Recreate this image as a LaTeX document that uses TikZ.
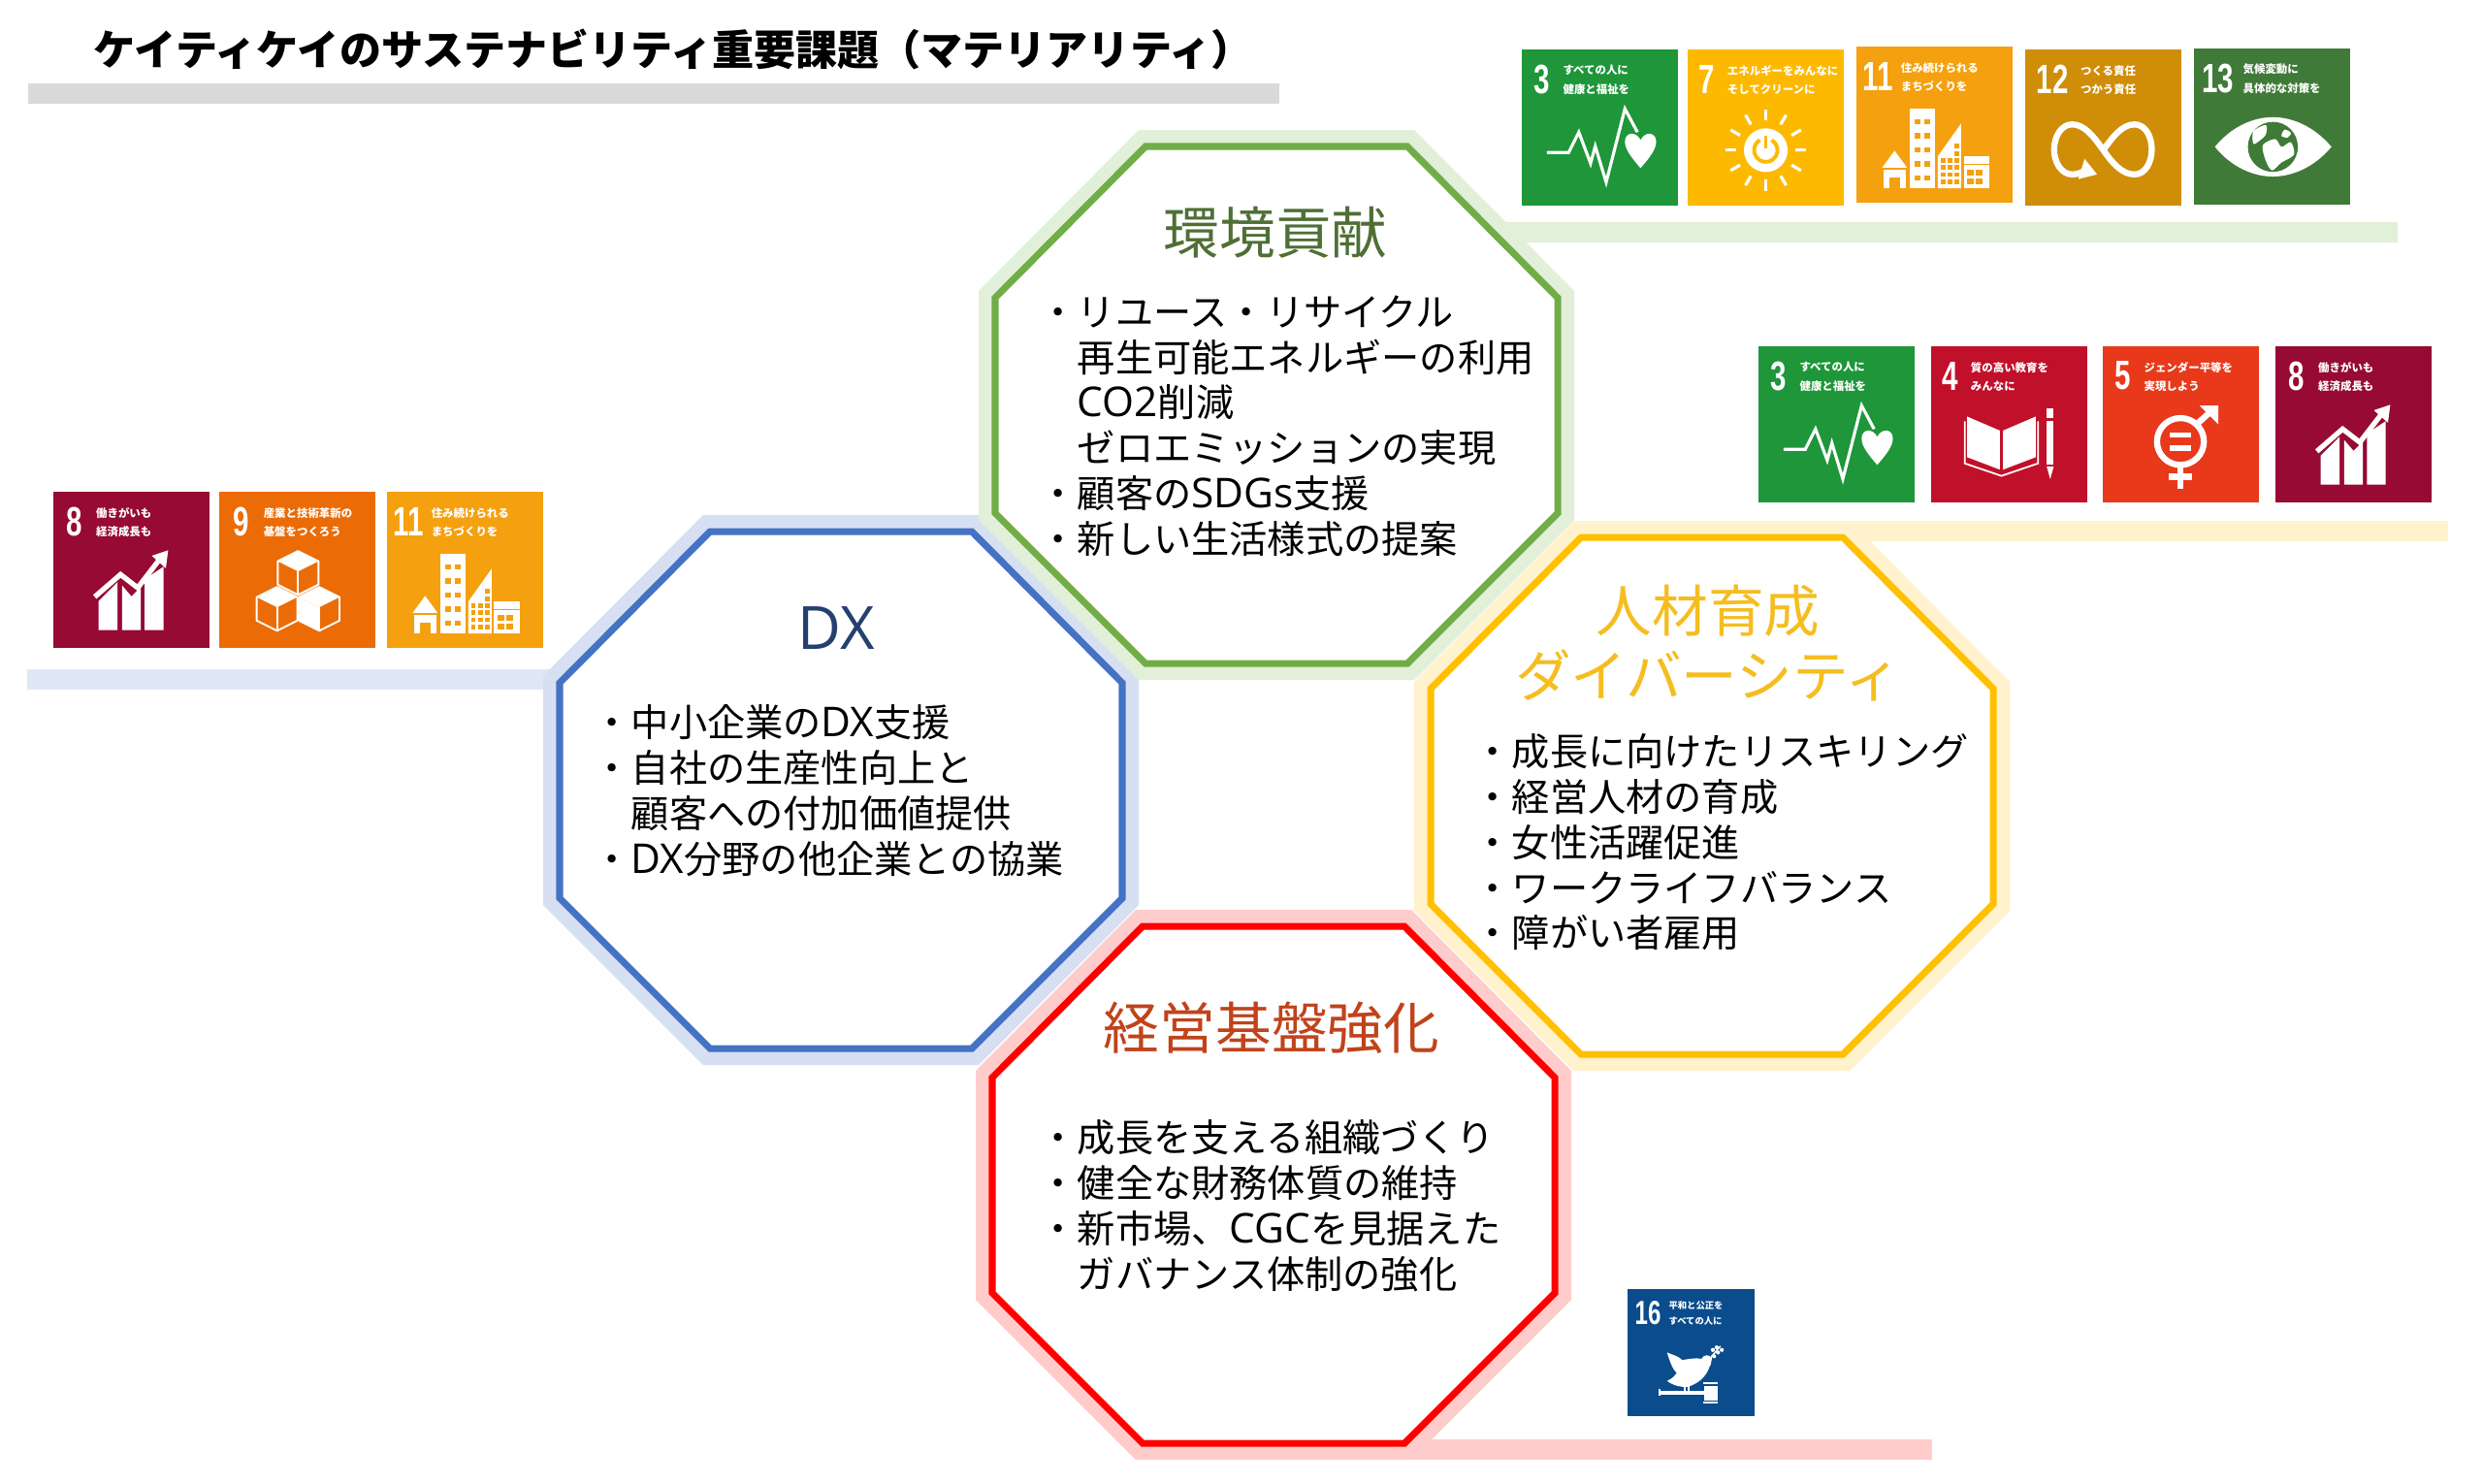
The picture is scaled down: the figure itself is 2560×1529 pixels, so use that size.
\documentclass[tikz,border=0pt]{standalone}
\usepackage{fontspec}
\newfontfamily\cjk{Noto Sans CJK JP}
\newfontfamily\numfont{Liberation Sans}
\newfontfamily\latfont[Scale=1.08]{Open Sans}
\newcommand\lat[1]{{\latfont #1}}

\definecolor{sdgthree}{HTML}{1E9639}
\definecolor{sdgfour}{HTML}{C1102A}
\definecolor{sdgfive}{HTML}{E8391B}
\definecolor{sdgseven}{HTML}{FDB900}
\definecolor{sdgeight}{HTML}{960A33}
\definecolor{sdgnine}{HTML}{EB6C07}
\definecolor{sdgeleven}{HTML}{F5A00E}
\definecolor{sdgtwelve}{HTML}{CF8D08}
\definecolor{sdgthirteen}{HTML}{407A38}
\definecolor{sdgsixteen}{HTML}{0B4C8D}
\definecolor{envline}{HTML}{70AD47}
\definecolor{envhalo}{HTML}{E2EFD9}
\definecolor{envtext}{HTML}{4F6F35}
\definecolor{dxline}{HTML}{4472C4}
\definecolor{dxhalo}{HTML}{D6E0F2}
\definecolor{dxbar}{HTML}{DEE8F4}
\definecolor{dxtext}{HTML}{24406F}
\definecolor{hrline}{HTML}{FFC000}
\definecolor{hrhalo}{HTML}{FFF2CC}
\definecolor{hrtext}{HTML}{F5BD1F}
\definecolor{mgline}{HTML}{FF0000}
\definecolor{mghalo}{HTML}{FFCCCC}
\definecolor{mgtext}{HTML}{C0431B}

\tikzset{headtext/.style = {font=\cjk\fontsize{16.4}{19.3}\selectfont,
                                    inner sep=0pt},
         bodytext/.style = {font=\cjk\fontsize{11.15}{13.3}\selectfont,
                                    align=left,
                                    anchor=north west,
                                    inner sep=0pt},
         sdgnum/.style = {font=\numfont\bfseries\fontsize{12}{12}\selectfont,
                                    color=white,
                                    inner sep=0pt,
                                    xscale=.7,
                                    transform shape},
         sdgline/.style = {font=\cjk\bfseries\fontsize{3.25}{4}\selectfont,
                                    color=white,
                                    anchor=west,
                                    inner sep=0pt,
                                    transform shape},
         iconline/.style = {color=white,
                                    line width=.9pt}}

\def\tilescale{1}

\newcommand\octa[4]{
		\begin{scope}[shift={(#1,#2)}]
			\draw[line width=9.67pt, color=#4] (155,0) -- (425,0) -- (580,156) -- (580,378) -- (425,533) -- (155,533) -- (0,378) -- (0,156) -- cycle;
			\draw[line width=2pt, color=#3, fill=white] (155,0) -- (425,0) -- (580,156) -- (580,378) -- (425,533) -- (155,533) -- (0,378) -- (0,156) -- cycle;
		\end{scope}}

\newcommand\sdgtile[9]{
		\colorlet{tilecol}{#4}
		\begin{scope}[shift={(#2,#3)},scale=\tilescale,x=0.0161cm,y=0.0161cm]
			\fill[#4] (0,0) rectangle (100,100);
			\node[sdgnum] (#1num) at (#6/2,81) {#5};
			\node[sdgline] (#1a) at (#6,86.5) {#7};
			\node[sdgline] (#1b) at (#6,74.5) {#8};
			#9
		\end{scope}}

\newcommand\iconbeat{
			\draw[iconline] (16,34) -- (30,34) -- (36.5,47) -- (44,27) -- (47,38) -- (54,15) -- (66,62) -- (74,47);
			\fill[white] (76,24) .. controls (70,31) and (66,36) .. (66,41) .. controls (66,47) and (73,48) .. (76,42) .. controls (79,48) and (86,47) .. (86,41) .. controls (86,36) and (82,31) .. (76,24) -- cycle;}

\newcommand\iconsun{
			\begin{scope}[shift={(50,35.5)}]
				\foreach \a in {0,30,...,330}
					\draw[iconline] (\a:19) -- (\a:26);
				\fill[white] (0,0) circle (14);
				\draw[tilecol, line width=1.1pt] (60:7.5) arc (60:-240:7.5);
				\draw[tilecol, line width=1.1pt] (0,9.5) -- (0,1);
			\end{scope}}

\newcommand\icontown{
			\fill[white] (34.3,9.3) rectangle (50,60);
			\foreach \r in {14,23,32,41,50}
				\foreach \c in {37.5,43.5}
					\fill[tilecol] (\c,\r) rectangle ++(3.5,3.5);
			\fill[white] (16.4,22.4) -- (24.4,33.3) -- (32.4,22.4) -- cycle;
			\fill[white] (17.5,9.3) rectangle (31.5,21);
			\fill[tilecol] (21,9.3) rectangle (28,16);
			\fill[white] (52,9.3) -- (52,29.6) -- (67,50.7) -- (67,9.3) -- cycle;
			\foreach \r in {12,16.5,21,25.5}
				\foreach \c in {54,58.5,63}
					\fill[tilecol] (\c,\r) rectangle ++(2.8,3);
			\fill[tilecol] (63,30) rectangle ++(2.8,3);
			\fill[tilecol] (63,35) rectangle ++(2.8,3);
			\fill[white] (68.6,9.3) rectangle (85,29.6);
			\fill[tilecol] (68.6,24) rectangle (85,25);
			\foreach \r in {12,17.5}
				\foreach \c in {71,76.5}
					\fill[tilecol] (\c,\r) rectangle ++(4,3.5);}

\newcommand\iconloop{
			\draw[white, line width=1.8pt] (50,35.5) .. controls (56,44) and (62,52) .. (70,52) .. controls (77,52) and (81,44) .. (81,36) .. controls (81,28) and (77,20) .. (70,20) .. controls (62,20) and (56,27) .. (50,35.5) .. controls (44,44) and (38,52) .. (30,52) .. controls (23,52) and (18.5,44) .. (18.5,36) .. controls (18.5,28) and (23,20) .. (30,20) .. controls (33,20) and (36,21) .. (39,23);
			\fill[white] (34,17) -- (46,20) -- (38,30) -- cycle;}

\newcommand\iconeye{
			\fill[white] (13.4,37) .. controls (24,50) and (38,56) .. (50.5,56) .. controls (63,56) and (77,50) .. (88,37) .. controls (77,24) and (63,18) .. (50.5,18) .. controls (38,18) and (24,24) .. (13.4,37) -- cycle;
			\fill[tilecol] (50.5,37) circle (16);
			\fill[white] plot[smooth cycle] coordinates {(38,47) (46,51) (46,45) (42,41) (38,39)};
			\fill[white] plot[smooth cycle] coordinates {(44,38) (52,42) (56,37) (62,40) (64,32) (56,27) (50,22) (46,28)};
			\fill[white] plot[smooth cycle] coordinates {(58,48) (62,46) (60,43) (56,44)};}

\newcommand\iconbook{
			\fill[white] (23,55) -- (44,46) -- (44,21) -- (23,29) -- cycle;
			\fill[white] (46,46) -- (67,55) -- (67,29) -- (46,21) -- cycle;
			\draw[white, line width=.5pt] (21.5,52) -- (21.5,25) -- (45,17) -- (68.5,25) -- (68.5,52);
			\fill[white] (74,24) rectangle (78.5,52);
			\fill[white] (74,54) rectangle (78.5,60);
			\fill[white] (74,23) -- (78.5,23) -- (76.2,15) -- cycle;}

\newcommand\iconequal{
			\draw[white, line width=1.8pt] (49.7,39) circle (15);
			\fill[white] (43,41.5) rectangle (56.5,45);
			\fill[white] (43,33) rectangle (56.5,36.5);
			\draw[iconline, line width=1.8pt] (60,50) -- (70,59);
			\fill[white] (62,62) -- (74,62) -- (74,50) -- cycle;
			\draw[iconline, line width=1.8pt] (49.7,24) -- (49.7,9);
			\draw[iconline, line width=1.8pt] (42.5,16.5) -- (57,16.5);}

\newcommand\icongrowth{
			\fill[white] (29,11.4) -- (29,30) -- (41,42) -- (41,11.4) -- cycle;
			\fill[white] (44,11.4) -- (44,40) -- (50,33) -- (56,39) -- (56,11.4) -- cycle;
			\fill[white] (58.5,11.4) -- (58.5,44) -- (70.5,52) -- (70.5,11.4) -- cycle;
			\draw[white, line width=1.5pt] (26.5,32.7) -- (43,47) -- (54,38.5) -- (69,58);
			\fill[white] (63,59) -- (73.5,62.5) -- (72,51) -- cycle;}

\newcommand\cubeshape[2]{
			\begin{scope}[shift={(#1,#2)}]
				\draw[white, line width=.55pt, line join=round] (0,0) -- (13,-6.5) -- (13,-21.5) -- (0,-28) -- (-13,-21.5) -- (-13,-6.5) -- cycle;
				\draw[white, line width=.55pt] (0,-13) -- (0,-28);
				\fill[white] (0,0) -- (13,-6.5) -- (0,-13) -- (-13,-6.5) -- cycle;
			\end{scope}}

\newcommand\iconcubes{
			\cubeshape{50.5}{62}
			\cubeshape{37}{39}
			\cubeshape{64}{39}
			\fill[white] (51,32.5) -- (64,26) -- (64,11) -- (51,17.5) -- cycle;}

\newcommand\icondove{
			\fill[white] (31,50) .. controls (36,48) and (40,47) .. (43,44) .. controls (48,45) and (54,46) .. (58,45) .. controls (60,48) and (63,49) .. (66,46) .. controls (65,38) and (62,28) .. (47.5,23) .. controls (42,22.5) and (36,24) .. (31,27.6) .. controls (34,29) and (37,31) .. (38.6,34) .. controls (35,37) and (33,44) .. (31,50) -- cycle;
			\draw[iconline, line width=.6pt] (45,24) -- (45,18);
			\draw[iconline, line width=.6pt] (48,24) -- (48,18);
			\draw[iconline, line width=.4pt] (64.7,40) -- (66,47) -- (73,55);
			\foreach \p in {(67,52),(70,54),(71,50),(74,52),(68,47)}
				\fill[white] \p circle (1.6);
			\fill[white] (25,16.8) rectangle (61,20);
			\fill[white] (24.5,16) rectangle (26,21);
			\fill[white] (60,12) rectangle (70.8,24);
			\fill[white] (59.6,10) rectangle (71,11.4);
			\fill[white] (59.6,24.8) rectangle (71,26.4);}

\begin{document}
\begin{tikzpicture}[x=0.01cm,y=-0.01cm]
		\fill[white] (0,0) rectangle (2560,1529);
		\useasboundingbox (0,0) rectangle (2560,1529);

		\node[font=\cjk\bfseries\fontsize{12.25}{14}\selectfont, anchor=west, inner sep=0pt] (title) at (96,51) {ケイティケイのサステナビリティ重要課題（マテリアリティ）};
		\fill[black!15] (29,86) rectangle (1319,107);

		\fill[dxbar] (28,690) rectangle (600,711);
		\fill[envhalo] (1540,229) rectangle (2472,250);
		\fill[hrhalo] (1890,537) rectangle (2524,558);
		\fill[mghalo] (1440,1484) rectangle (1992,1505);

		\octa{577}{548}{dxline}{dxhalo}
		\octa{1026}{151}{envline}{envhalo}
		\octa{1023}{955}{mgline}{mghalo}
		\octa{1475}{554}{hrline}{hrhalo}

		\node[headtext, color=envtext] (envhead) at (1315,240) {環境貢献};
		\node[bodytext] (envbody) at (1071,304) {・リユース・リサイクル\\
			\phantom{・}再生可能エネルギーの利用\\
			\phantom{・}\lat{CO2}削減\\
			\phantom{・}ゼロエミッションの実現\\
			・顧客の\lat{SDGs}支援\\
			・新しい生活様式の提案};

		\node[headtext, color=dxtext, font=\latfont\fontsize{16.2}{20}\selectfont] (dxhead) at (862,648) {DX};
		\node[bodytext] (dxbody) at (611,726) {・中小企業の\lat{DX}支援\\
			・自社の生産性向上と\\
			\phantom{・}顧客への付加価値提供\\
			・\lat{DX}分野の他企業との協業};

		\node[headtext, color=hrtext, align=center] (hrhead) at (1761,663) {人材育成\\ダイバーシティ};
		\node[bodytext] (hrbody) at (1519,756) {・成長に向けたリスキリング\\
			・経営人材の育成\\
			・女性活躍促進\\
			・ワークライフバランス\\
			・障がい者雇用};

		\node[headtext, color=mgtext] (mghead) at (1311,1060) {経営基盤強化};
		\node[bodytext] (mgbody) at (1071,1154) {・成長を支える組織づくり\\
			・健全な財務体質の維持\\
			・新市場、\lat{CGC}を見据えた\\
			\phantom{・}ガバナンス体制の強化};

		\sdgtile{aa}{1569}{212}{sdgthree}{3}{26}{すべての人に}{健康と福祉を}{\iconbeat}
		\sdgtile{ab}{1740}{212}{sdgseven}{7}{25}{エネルギーをみんなに}{そしてクリーンに}{\iconsun}
		\sdgtile{ac}{1914}{209}{sdgeleven}{11}{28}{住み続けられる}{まちづくりを}{\icontown}
		\sdgtile{ad}{2088}{212}{sdgtwelve}{12}{35}{つくる責任}{つかう責任}{\iconloop}
		\sdgtile{ae}{2262}{211}{sdgthirteen}{13}{31}{気候変動に}{具体的な対策を}{\iconeye}

		\sdgtile{ba}{1813}{518}{sdgthree}{3}{26}{すべての人に}{健康と福祉を}{\iconbeat}
		\sdgtile{bb}{1991}{518}{sdgfour}{4}{25}{質の高い教育を}{みんなに}{\iconbook}
		\sdgtile{bc}{2168}{518}{sdgfive}{5}{26}{ジェンダー平等を}{実現しよう}{\iconequal}
		\sdgtile{bd}{2346}{518}{sdgeight}{8}{27}{働きがいも}{経済成長も}{\icongrowth}

		\sdgtile{ca}{55}{668}{sdgeight}{8}{27}{働きがいも}{経済成長も}{\icongrowth}
		\sdgtile{cb}{226}{668}{sdgnine}{9}{28}{産業と技術革新の}{基盤をつくろう}{\iconcubes}
		\sdgtile{cc}{399}{668}{sdgeleven}{11}{28}{住み続けられる}{まちづくりを}{\icontown}

		\def\tilescale{.815}
		\sdgtile{da}{1678}{1460}{sdgsixteen}{16}{32}{平和と公正を}{すべての人に}{\icondove}
\end{tikzpicture}
\end{document}
